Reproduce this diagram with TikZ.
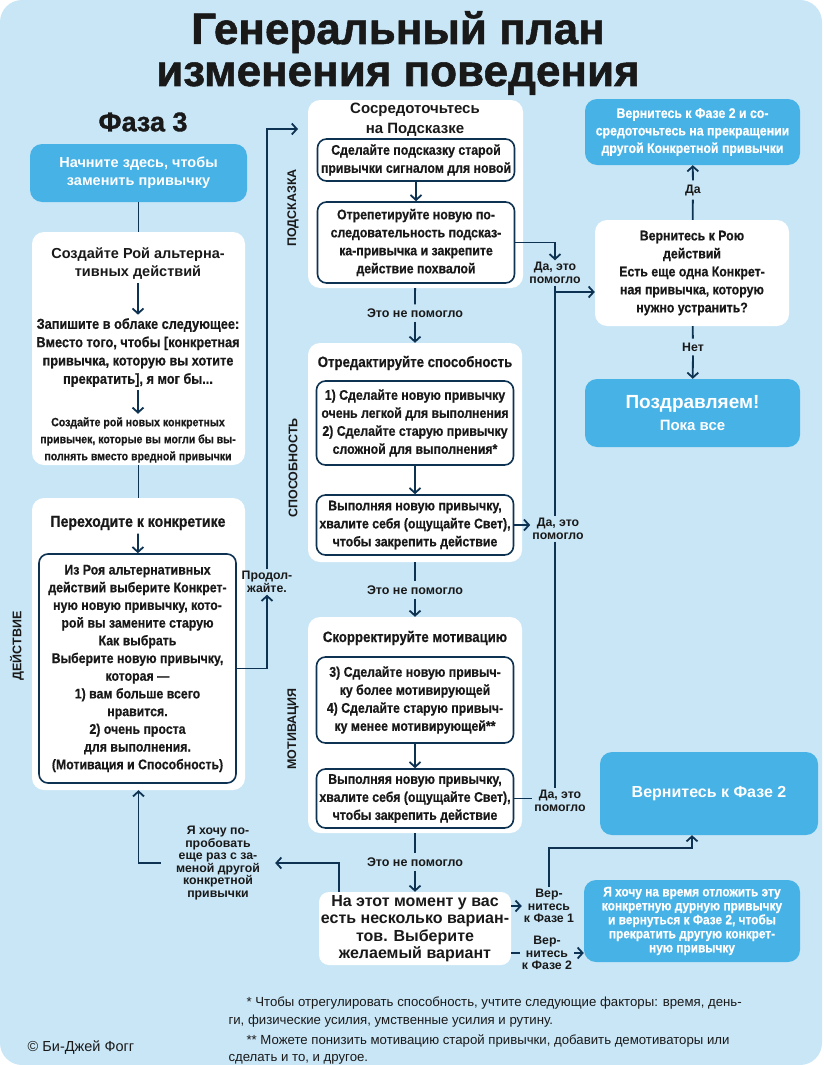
\documentclass[tikz,border=0pt]{standalone}
\usepackage{fontspec}
\setmainfont{Liberation Sans}
\newfontfamily\narrowfont[FakeStretch=0.88,FakeBold=0.5]{Liberation Sans}
\newfontfamily\titlefont[FakeBold=1.2]{Liberation Sans}
\usetikzlibrary{arrows.meta}
\definecolor{skyback}{RGB}{201,230,246}
\definecolor{boxblue}{RGB}{70,178,230}
\definecolor{inkblue}{RGB}{14,50,82}
\definecolor{inkdark}{RGB}{25,25,25}

\begin{document}
\begin{tikzpicture}
[x=1pt,y=-1pt,
 every node/.style={text=inkdark},
 panel/.style={fill=white,rounded corners=12pt,inner sep=0pt},
 bluebox/.style={fill=boxblue,rounded corners=12pt,text=white,align=center,inner sep=0pt},
 stepbox/.style={draw=inkblue,line width=1.6pt,fill=white,rounded corners=9pt,minimum width=197pt,inner sep=0pt,align=center,font=\narrowfont\bfseries\fontsize{14}{18}\selectfont},
 headtext/.style={align=center,font=\bfseries\fontsize{14.5}{18}\selectfont},
 narrowtext/.style={align=center,font=\narrowfont\bfseries\fontsize{14.5}{18.3}\selectfont},
 tag/.style={align=center,inner sep=2pt,font=\bfseries\fontsize{12.3}{12.5}\selectfont},
 fail/.style={inner sep=4pt,font=\bfseries\fontsize{12.5}{13}\selectfont},
 side/.style={rotate=90,font=\bfseries\fontsize{12.5}{14}\selectfont},
 link/.style={draw=inkblue,line width=1.8pt},
 arr/.style={link,-{Straight Barb[length=5pt,width=11pt]}}]

\useasboundingbox (0,0) rectangle (824,1065);
\fill[skyback,rounded corners=22pt] (0,0) rectangle (822,1065);

% title
\node (title) at (398,53) [align=center,font=\titlefont\bfseries\fontsize{44}{42}\selectfont] {Генеральный план\\изменения поведения};
\node (phase) at (143,122) [font=\titlefont\bfseries\fontsize{27}{30}\selectfont] {Фаза 3};

% left column: action
\node (start) at (138.5,173) [bluebox,minimum width=217pt,minimum height=58pt,font=\bfseries\fontsize{14.5}{18}\selectfont] {Начните здесь, чтобы\\заменить привычку};
\node (swarm) at (138.5,348.5) [panel,minimum width=213pt,minimum height=233pt] {};
\node (swarmhead) at (138,264) [headtext] {Создайте Рой альтерна-\\тивных действий};
\node (cloud) at (138,352.5) [narrowtext] {Запишите в облаке следующее:\\Вместо того, чтобы [конкретная\\привычка, которую вы хотите\\прекратить], я мог бы...};
\node (newhabits) at (138,440) [align=center,font=\narrowfont\bfseries\fontsize{12}{17}\selectfont] {Создайте рой новых конкретных\\привычек, которые вы могли бы вы-\\полнять вместо вредной привычки};
\node (concrete) at (138.5,644) [panel,minimum width=213pt,minimum height=292pt] {};
\node (concretehead) at (138,523) [narrowtext,font=\narrowfont\bfseries\fontsize{16}{18}\selectfont] {Переходите к конкретике};
\node (pick) at (137.5,668.5) [stepbox,minimum height=229pt,font=\narrowfont\bfseries\fontsize{14}{17.7}\selectfont] {Из Роя альтернативных\\действий выберите Конкрет-\\ную новую привычку, кото-\\рой вы замените старую\\Как выбрать\\Выберите новую привычку,\\которая —\\1) вам больше всего\\нравится.\\2) очень проста\\для выполнения.\\(Мотивация и Способность)};
\node (cont) at (267,582) [tag] {Продол-\\жайте.};
\node (try) at (218,863) [tag,inner xsep=15pt] {Я хочу по-\\пробовать\\еще раз с за-\\меной другой\\конкретной\\привычки};
\node (actside) at (17,646) [side] {ДЕЙСТВИЕ};

% middle column: prompt, ability, motivation
\node (prompt) at (415.5,194) [panel,minimum width=215pt,minimum height=188pt] {};
\node (prompthead) at (415,120) [headtext,font=\bfseries\fontsize{15}{20}\selectfont] {Сосредоточьтесь\\на Подсказке};
\node (cue) at (416,160) [stepbox,minimum height=42pt] {Сделайте подсказку старой\\привычки сигналом для новой};
\node (rehearse) at (416,242.5) [stepbox,minimum height=81pt] {Отрепетируйте новую по-\\следовательность подсказ-\\ка-привычка и закрепите\\действие похвалой};
\node (promptside) at (293,208) [side] {ПОДСКАЗКА};
\node (fail1) at (415,313) [fail] {Это не помогло};

\node (ability) at (415,452.5) [panel,minimum width=214pt,minimum height=219pt] {};
\node (abilityhead) at (415,363) [narrowtext,font=\narrowfont\bfseries\fontsize{15}{18}\selectfont] {Отредактируйте способность};
\node (easy) at (415,423) [stepbox,minimum height=84pt] {1) Сделайте новую привычку\\очень легкой для выполнения\\2) Сделайте старую привычку\\сложной для выполнения*};
\node (praise1) at (415,525) [stepbox,minimum height=60pt] {Выполняя новую привычку,\\хвалите себя (ощущайте Свет),\\чтобы закрепить действие};
\node (abilityside) at (293,468) [side] {СПОСОБНОСТЬ};
\node (fail2) at (415,590) [fail] {Это не помогло};

\node (motiv) at (415,725) [panel,minimum width=214pt,minimum height=216pt] {};
\node (motivhead) at (415,638) [narrowtext,font=\narrowfont\bfseries\fontsize{15}{18}\selectfont] {Скорректируйте мотивацию};
\node (motivate) at (415,700) [stepbox,minimum height=86pt] {3) Сделайте новую привыч-\\ку более мотивирующей\\4) Сделайте старую привыч-\\ку менее мотивирующей**};
\node (praise2) at (415,798.5) [stepbox,minimum height=59pt] {Выполняя новую привычку,\\хвалите себя (ощущайте Свет),\\чтобы закрепить действие};
\node (motivside) at (293,729) [side] {МОТИВАЦИЯ};
\node (fail3) at (415,862) [fail] {Это не помогло};

\node (options) at (415,928.5) [panel,rounded corners=10pt,minimum width=192pt,minimum height=73pt,align=center,font=\bfseries\fontsize{16}{17.5}\selectfont] {На этот момент у вас\\есть несколько вариан-\\тов. Выберите\\желаемый вариант};
\node (back1) at (549,906) [tag] {Вер-\\нитесь\\к Фазе 1};
\node (back2) at (547,953) [tag] {Вер-\\нитесь\\к Фазе 2};

\node (yes1) at (555,273) [tag] {Да, это\\помогло};
\node (yes2) at (558,529) [tag] {Да, это\\помогло};
\node (yes3) at (560,801) [tag] {Да, это\\помогло};

% right column
\node (stopother) at (692.5,132) [bluebox,minimum width=215pt,minimum height=66pt,font=\narrowfont\bfseries\fontsize{14}{17.5}\selectfont] {Вернитесь к Фазе 2 и со-\\средоточьтесь на прекращении\\другой Конкретной привычки};
\node (decide) at (692,273) [panel,minimum width=194pt,minimum height=106pt,align=center,font=\narrowfont\bfseries\fontsize{14}{18}\selectfont] {Вернитесь к Рою\\действий\\Есть еще одна Конкрет-\\ная привычка, которую\\нужно устранить?};
\node (yes) at (693,190) [tag,inner sep=4pt] {Да};
\node (no) at (693,347) [tag,inner sep=4pt] {Нет};
\node (done) at (692.5,413) [bluebox,minimum width=215pt,minimum height=68pt,font=\bfseries] {\fontsize{19}{22}\selectfont Поздравляем!\\[6pt]\fontsize{15}{18}\selectfont Пока все};
\node (phase2) at (709,793.5) [bluebox,minimum width=218pt,minimum height=83pt,font=\bfseries\fontsize{16}{18}\selectfont] {Вернитесь к Фазе 2};
\node (pause) at (692,921) [bluebox,minimum width=216pt,minimum height=82pt,font=\narrowfont\bfseries\fontsize{13.5}{14}\selectfont] {Я хочу на время отложить эту\\конкретную дурную привычку\\и вернуться к Фазе 2, чтобы\\прекратить другую конкрет-\\ную привычку};

% footnotes
\node (noteA) at (225,1012) [anchor=west,align=left,font=\fontsize{13.2}{18}\selectfont] {\hspace*{18pt}* Чтобы отрегулировать способность, учтите следующие факторы: время, день-\\ги, физические усилия, умственные усилия и рутину.};
\node (noteB) at (225,1049) [anchor=west,align=left,font=\fontsize{13.2}{17}\selectfont] {\hspace*{18pt}** Можете понизить мотивацию старой привычки, добавить демотиваторы или\\сделать и то, и другое.};
\node (author) at (81,1048) [font=\fontsize{14.5}{16}\selectfont] {© Би-Джей Фогг};

% connectors
\draw[link] (start) -- (swarm);
\draw[link] (swarm) -- (concrete);
\draw[arr] (swarmhead) -- (cloud);
\draw[arr] (cloud) -- (newhabits);
\draw[arr] (concretehead) -- (pick);
\coordinate (promptin) at (298,129);
\draw[arr] (pick.east) -| (cont.south);
\draw[arr] (cont.north) |- (promptin);
\draw[arr] (try.west) -| (concrete.south);

\draw[arr] (cue) -- (rehearse);
\draw[link] (prompt) -- (fail1);
\draw[arr] (fail1) -- (ability);
\draw[arr] (easy) -- (praise1);
\draw[link] (ability) -- (fail2);
\draw[arr] (fail2) -- (motiv);
\draw[arr] (motivate) -- (praise2);
\draw[link] (motiv) -- (fail3);
\draw[arr] (fail3) -- (options);
\draw[arr] ([xshift=-76pt]options.north) |- (try.east);

\draw[arr] (rehearse.east) -| (yes1.north);
\coordinate (branch) at (555,292);
\draw[arr] (branch) -- (branch -| decide.west);
\draw[link] (yes1.south) -- (yes1.south |- yes2.north);
\draw[link] (yes1.south |- yes2.south) -- (yes1.south |- yes3.north);
\draw[arr] (praise1.east) -- (praise1.east -| yes2.west);
\draw[link] (praise2.east) -- (praise2.east -| yes3.west);

\draw[link] (decide) -- (yes);
\draw[arr] (yes) -- (stopother);
\draw[link] (decide) -- (no);
\draw[arr] (no) -- (done);

\coordinate (bend) at (692,848);
\draw[arr] (options.east |- back1.west) -- (back1.west);
\draw[arr] (back1.north) |- (bend) -- (bend |- phase2.south);
\draw[link] (options.east |- back2.west) -- (back2.west);
\draw[arr] (back2.east) -- (back2.east -| pause.west);
\end{tikzpicture}
\end{document}
